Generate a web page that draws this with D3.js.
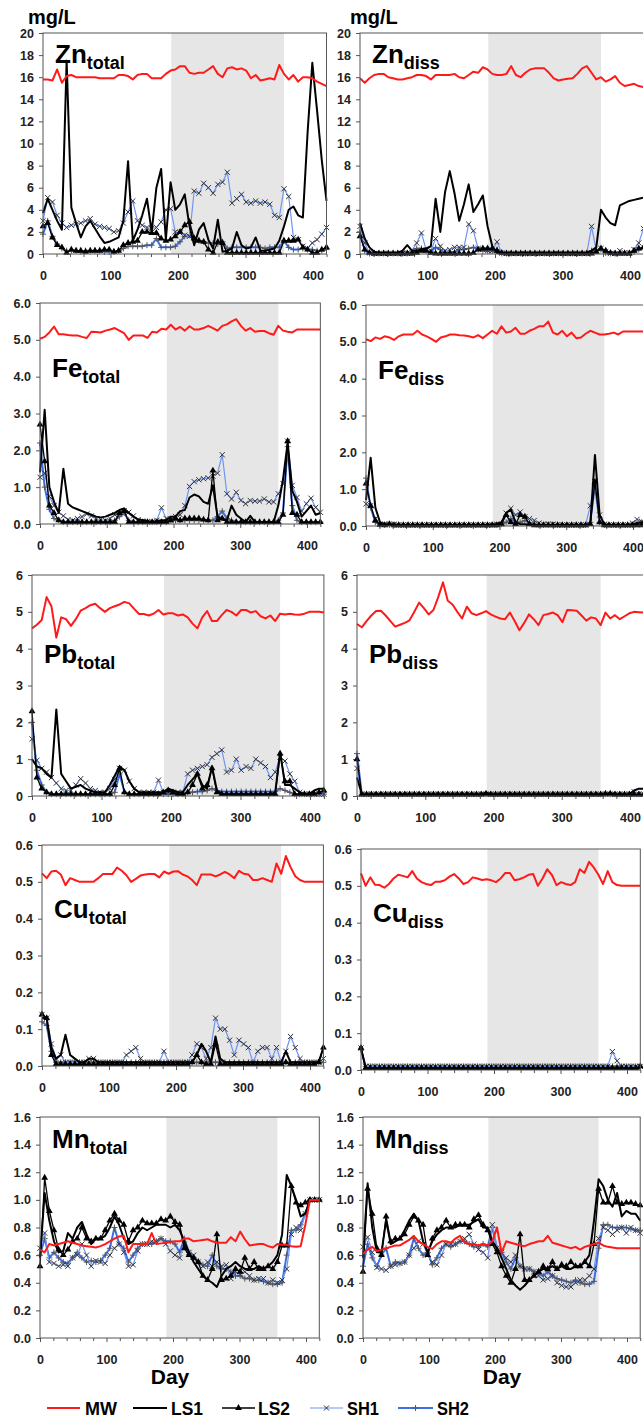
<!DOCTYPE html>
<html>
<head>
<meta charset="utf-8">
<script src="https://cdn.jsdelivr.net/npm/d3@7"></script>
<style>
  body { margin: 0; background: #fff; }
  svg { display: block; font-family: "Liberation Sans", Arial, sans-serif; font-weight: bold; }
</style>
</head>
<body>
<svg id="chart" width="643" height="1419"></svg>
<script>
// sampling days shared by every series
var days = [0,7,14,21,28,35,42,49,56,63, 70,77,84,91,98,105,112,119,126,133, 140,147,154,161,168,175,182,189,196,203,
  210,217,224,231,238,245,252,259,266,273, 280,287,294,301,308,315,322,329,336,343, 350,357,364,371,378,385,392,399,406,413, 420];
var xTicks = [0, 100, 200, 300, 400];
var xMinor = [20,40,60,80,120,140,160,180,220,240,260,280,320,340,360,380,420];
var shade = [190, 357];   // grey period
var seriesNames = ["MW", "LS1", "LS2", "SH1", "SH2"];

var znTicks = [0,2,4,6,8,10,12,14,16,18,20];
var feTicks = [0,1,2,3,4,5,6];
var pbTicks = [0,1,2,3,4,5,6];
var cuTicks = [0,0.1,0.2,0.3,0.4,0.5,0.6];
var mnTicks = [0,0.2,0.4,0.6,0.8,1.0,1.2,1.4,1.6];

// ---- Zn total
var znTotMW  = [15.8,15.8,15.7,16.7,15.5,16.1,16.2,16.0,16.0,16.0, 16.0,16.0,15.9,15.9,15.9,15.9,16.2,16.2,16.1,15.8, 16.2,16.3,16.3,15.9,15.9,15.9,16.3,16.6,16.7,17.0, 17.0,16.4,16.3,16.4,16.4,16.7,17.0,16.3,16.0,16.8, 16.9,16.7,16.8,16.6,15.9,16.2,15.7,15.8,15.9,15.8, 17.1,16.3,15.8,16.2,15.6,16.0,16.0,15.9,15.6,15.4, 15.2];
var znTotLS1 = [3.7,5.0,4.0,3.0,2.2,17.5,4.2,2.8,1.5,2.5, 3.0,2.3,1.6,1.0,1.1,1.3,1.5,3.0,8.4,1.2, 2.2,3.5,5.0,2.0,6.0,7.7,1.3,6.5,4.0,4.5, 5.4,2.5,0.8,2.2,2.8,1.3,0.5,3.1,0.2,0.3, 0.5,2.0,0.8,0.5,0.6,1.5,0.3,0.3,0.4,0.5, 1.2,2.5,4.0,4.3,3.5,3.3,11.0,17.3,13.0,8.5, 4.8];
var znTotLS2 = [2.5,2.8,1.5,0.8,0.6,0.1,0.4,0.3,0.3,0.2, 0.3,0.3,0.3,0.4,0.4,0.2,0.3,0.8,1.0,1.1, 1.2,2.0,2.0,1.9,1.9,1.4,1.2,1.3,1.6,2.0, 2.6,2.9,1.4,1.2,1.1,0.4,0.1,1.1,1.0,0.1, 0.1,0.1,0.1,0.1,0.1,0.1,0.1,0.1,0.1,0.1, 0.1,1.2,1.2,1.2,1.3,0.6,0.4,0.1,0.1,0.4, 0.6];
var znTotSH1 = [3.0,5.1,4.7,3.5,2.8,2.4,2.6,2.7,2.8,3.0, 3.2,2.7,2.5,2.4,2.3,2.0,2.1,2.8,3.8,4.8, 3.0,2.6,2.4,2.3,2.4,2.9,4.0,4.1,2.0,1.9, 1.7,1.6,5.7,5.5,6.4,6.0,5.5,6.3,6.5,7.4, 4.6,5.0,5.4,4.7,4.6,4.8,4.6,4.7,4.5,3.5, 3.3,5.9,5.2,1.5,1.3,0.7,0.5,1.0,1.3,1.8, 2.4];
var znTotSH2 = [1.8,3.0,1.6,0.9,0.5,0.3,0.3,0.3,0.2,0.3, 0.3,0.3,0.3,0.2,0.2,0.2,0.3,0.5,0.7,0.7, 0.7,0.7,0.8,0.8,1.4,0.6,0.6,0.6,0.7,1.1, 1.6,1.7,1.3,1.2,1.1,1.0,1.0,0.9,1.1,0.5, 0.6,0.6,0.6,0.6,0.6,0.6,0.6,0.5,0.6,0.6, 0.6,1.2,0.6,0.4,0.4,0.5,0.4,0.4,0.3,0.3, 0.4];

// ---- Zn dissolved
var znDisMW  = [15.9,15.5,15.9,16.2,16.3,16.3,16.0,15.9,15.8,15.8, 15.9,16.0,16.2,16.2,16.1,15.8,16.2,16.2,16.2,16.2, 16.3,16.0,15.9,16.2,16.5,16.4,16.9,16.7,16.3,16.2, 16.2,16.3,17.0,16.2,16.0,16.4,16.7,16.8,16.8,16.8, 16.4,15.9,15.7,15.8,15.85,15.9,16.3,16.8,17.0,16.4, 15.8,16.0,15.6,15.8,16.1,15.5,15.2,15.3,15.4,15.2, 15.1];
var znDisLS1 = [2.8,1.4,0.6,0.2,0.1,0.1,0.1,0.1,0.1,0.3, 0.8,0.3,0.3,0.4,0.5,0.7,5.0,2.0,5.6,7.5, 5.5,3.0,4.5,6.3,3.8,4.5,5.3,2.5,0.7,0.1, 0.1,0.1,0.1,0.1,0.1,0.1,0.1,0.1,0.1,0.1, 0.1,0.1,0.1,0.1,0.1,0.1,0.1,0.1,0.1,0.3, 0.6,4.0,3.3,2.8,2.6,4.4,4.6,4.8,4.9,5.0, 5.1];
var znDisLS2 = [1.6,0.4,0.1,0.05,0.05,0.05,0.05,0.05,0.05,0.05, 0.05,0.05,0.1,0.3,0.3,0.1,0.05,0.05,0.05,0.05, 0.05,0.05,0.05,0.05,0.1,0.4,0.5,0.5,0.5,0.3, 0.1,0.05,0.05,0.05,0.05,0.05,0.05,0.05,0.05,0.05, 0.05,0.05,0.05,0.05,0.05,0.05,0.05,0.05,0.05,0.05, 0.2,0.5,0.3,0.1,0.05,0.05,0.05,0.05,0.3,0.5, 0.6];
var znDisSH1 = [2.5,1.0,0.1,0.05,0.05,0.05,0.05,0.05,0.05,0.05, 0.1,0.3,1.0,1.9,0.4,0.3,1.4,0.7,0.3,0.4, 0.6,0.6,0.6,2.7,2.1,0.5,0.4,0.3,0.3,1.1, 0.1,0.05,0.05,0.05,0.05,0.05,0.05,0.05,0.05,0.05, 0.05,0.05,0.05,0.05,0.05,0.05,0.05,0.05,0.05,2.5, 0.3,0.5,0.2,0.05,0.05,0.3,0.1,0.1,0.4,1.0, 2.3];
var znDisSH2 = [2.0,0.3,0.05,0.05,0.05,0.05,0.05,0.05,0.05,0.05, 0.05,0.1,0.5,0.5,0.3,0.2,0.6,0.4,0.1,0.1, 0.2,0.4,0.4,0.5,0.6,0.4,0.3,0.3,0.3,0.4, 0.05,0.05,0.05,0.05,0.05,0.05,0.05,0.05,0.05,0.05, 0.05,0.05,0.05,0.05,0.05,0.05,0.05,0.05,0.05,0.3, 0.3,0.4,0.1,0.05,0.05,0.1,0.1,0.1,0.2,0.4, 0.5];

// ---- Fe total
var feTotMW  = [5.03,5.08,5.2,5.36,5.15,5.15,5.13,5.12,5.12,5.08, 5.05,5.22,5.21,5.2,5.25,5.28,5.32,5.25,5.18,5.0, 5.12,5.12,5.12,5.05,5.22,5.2,5.3,5.28,5.41,5.28, 5.35,5.25,5.37,5.28,5.28,5.32,5.38,5.32,5.25,5.38, 5.42,5.5,5.56,5.38,5.25,5.32,5.22,5.24,5.24,5.18, 5.14,5.38,5.25,5.22,5.2,5.28,5.28,5.28,5.28,5.28, 5.28];
var feTotLS1 = [1.4,3.1,1.0,0.6,0.3,1.5,0.55,0.45,0.4,0.35, 0.3,0.25,0.2,0.18,0.2,0.25,0.3,0.38,0.42,0.3, 0.2,0.12,0.1,0.08,0.05,0.08,0.1,0.1,0.2,0.2, 0.35,0.38,0.72,0.8,0.75,0.6,0.55,1.05,0.2,0.12, 0.1,0.5,0.25,0.15,0.05,0.22,0.05,0.05,0.05,0.05, 0.05,0.5,1.2,2.2,0.9,0.6,0.2,0.35,0.5,0.25, 0.3];
var feTotLS2 = [2.7,1.7,0.5,0.3,0.1,0.05,0.05,0.05,0.05,0.05, 0.05,0.05,0.05,0.05,0.05,0.05,0.05,0.3,0.35,0.05, 0.05,0.05,0.05,0.05,0.05,0.05,0.05,0.05,0.1,0.15, 0.1,0.15,0.15,0.15,0.15,0.12,0.1,1.45,0.1,0.15, 0.05,0.05,0.05,0.05,0.05,0.05,0.05,0.05,0.05,0.05, 0.05,0.05,0.25,2.25,0.3,0.25,0.05,0.05,0.05,0.05, 0.05];
var feTotSH1 = [1.27,1.38,0.75,0.5,0.32,0.22,0.12,0.1,0.15,0.2, 0.27,0.22,0.15,0.12,0.1,0.15,0.25,0.3,0.36,0.32, 0.22,0.12,0.08,0.06,0.06,0.1,0.44,0.15,0.1,0.2, 0.25,0.5,1.02,1.15,1.2,1.23,1.25,1.3,1.38,1.88, 0.82,0.68,0.86,0.64,0.55,0.64,0.62,0.62,0.68,0.6, 0.6,0.82,1.1,2.25,1.05,0.72,0.35,0.55,0.7,0.45, 0.32];
var feTotSH2 = [2.2,1.0,0.4,0.15,0.1,0.05,0.05,0.05,0.05,0.05, 0.05,0.05,0.05,0.05,0.05,0.05,0.1,0.2,0.3,0.1, 0.05,0.05,0.05,0.05,0.05,0.05,0.05,0.05,0.1,0.1, 0.1,0.1,0.1,0.1,0.1,0.1,0.1,0.1,0.2,0.35, 0.15,0.1,0.05,0.05,0.05,0.05,0.05,0.05,0.05,0.05, 0.05,0.1,0.3,2.1,0.5,0.1,0.05,0.05,0.05,0.05, 0.05];

// ---- Fe dissolved
var feDisMW  = [5.07,5.02,5.12,5.08,5.15,5.12,5.05,5.15,5.2,5.2, 5.2,5.3,5.2,5.15,5.08,5.0,5.12,5.15,5.2,5.2, 5.18,5.17,5.15,5.12,5.18,5.1,5.2,5.3,5.22,5.42, 5.25,5.28,5.38,5.22,5.22,5.3,5.35,5.42,5.42,5.55, 5.25,5.2,5.3,5.15,5.25,5.1,5.12,5.22,5.3,5.25, 5.2,5.2,5.22,5.25,5.2,5.28,5.28,5.28,5.28,5.28, 5.28];
var feDisLS1 = [0.7,1.85,0.5,0.1,0.05,0.05,0.05,0.03,0.03,0.03, 0.03,0.03,0.03,0.03,0.03,0.03,0.03,0.03,0.03,0.03, 0.03,0.03,0.03,0.03,0.03,0.03,0.03,0.05,0.05,0.1, 0.35,0.45,0.1,0.05,0.05,0.03,0.03,0.03,0.03,0.03, 0.03,0.03,0.03,0.03,0.03,0.03,0.03,0.03,0.05,1.93, 0.3,0.05,0.03,0.03,0.03,0.03,0.03,0.05,0.08,0.1, 0.1];
var feDisLS2 = [1.15,0.55,0.15,0.03,0.02,0.05,0.02,0.02,0.02,0.02, 0.02,0.02,0.02,0.02,0.02,0.02,0.02,0.02,0.02,0.02, 0.02,0.02,0.02,0.02,0.02,0.02,0.02,0.02,0.02,0.05, 0.3,0.1,0.05,0.3,0.25,0.05,0.02,0.02,0.02,0.02, 0.02,0.02,0.02,0.02,0.02,0.02,0.02,0.02,0.05,1.2, 0.1,0.02,0.02,0.02,0.02,0.02,0.02,0.02,0.02,0.02, 0.02];
var feDisSH1 = [0.6,0.55,0.2,0.05,0.05,0.05,0.05,0.03,0.03,0.03, 0.03,0.03,0.03,0.03,0.03,0.03,0.03,0.03,0.03,0.03, 0.03,0.03,0.03,0.03,0.03,0.03,0.03,0.03,0.05,0.05, 0.35,0.48,0.3,0.38,0.25,0.2,0.15,0.08,0.05,0.05, 0.05,0.03,0.03,0.03,0.03,0.03,0.03,0.03,0.55,1.2, 0.3,0.05,0.03,0.03,0.03,0.03,0.03,0.08,0.18,0.12, 0.1];
var feDisSH2 = [1.3,0.5,0.1,0.03,0.03,0.03,0.03,0.03,0.03,0.03, 0.03,0.03,0.03,0.03,0.03,0.03,0.03,0.03,0.03,0.03, 0.03,0.03,0.03,0.03,0.03,0.03,0.03,0.03,0.03,0.05, 0.1,0.2,0.1,0.1,0.15,0.08,0.05,0.03,0.03,0.03, 0.03,0.03,0.03,0.03,0.03,0.03,0.03,0.03,0.1,1.1, 0.1,0.03,0.03,0.03,0.03,0.03,0.03,0.03,0.05,0.1, 0.1];

// ---- Pb total
var pbTotMW  = [4.55,4.65,4.78,5.4,5.15,4.3,4.85,4.8,4.62,4.8, 5.03,5.1,5.18,5.22,5.1,5.0,5.1,5.15,5.2,5.27, 5.23,5.08,4.94,4.94,4.9,4.95,5.05,4.93,4.96,4.96, 4.9,4.93,4.85,4.68,4.55,4.85,5.02,4.75,4.75,4.91, 5.05,5.0,4.9,5.05,5.05,4.98,5.02,4.88,4.82,4.9, 4.75,4.95,4.93,4.95,4.93,4.92,4.95,5.0,5.0,5.0, 4.98];
var pbTotLS1 = [1.0,0.8,0.75,0.6,0.5,2.35,0.6,0.4,0.2,0.25, 0.3,0.2,0.15,0.1,0.1,0.1,0.3,0.55,0.8,0.7, 0.4,0.2,0.1,0.1,0.1,0.1,0.1,0.1,0.2,0.15, 0.1,0.1,0.3,0.45,0.6,0.3,0.2,0.8,0.15,0.05, 0.05,0.05,0.05,0.05,0.05,0.05,0.05,0.05,0.05,0.05, 0.1,1.2,0.3,0.3,0.2,0.1,0.05,0.05,0.15,0.2, 0.2];
var pbTotLS2 = [2.3,0.5,0.2,0.1,0.05,0.05,0.05,0.05,0.05,0.05, 0.05,0.05,0.05,0.05,0.05,0.05,0.05,0.3,0.75,0.1, 0.05,0.05,0.05,0.05,0.05,0.05,0.05,0.1,0.15,0.1, 0.05,0.05,0.1,0.3,0.6,0.2,0.3,0.75,0.1,0.05, 0.05,0.05,0.05,0.05,0.05,0.05,0.05,0.05,0.05,0.05, 0.05,1.15,0.4,0.4,0.05,0.05,0.05,0.05,0.05,0.1, 0.15];
var pbTotSH1 = [1.55,0.97,0.75,0.65,0.5,0.35,0.2,0.15,0.15,0.3, 0.47,0.35,0.2,0.15,0.1,0.1,0.2,0.45,0.75,0.7, 0.4,0.2,0.1,0.1,0.1,0.1,0.43,0.1,0.1,0.1, 0.1,0.1,0.6,0.7,0.75,0.8,0.85,1.05,1.15,1.25, 0.65,0.7,1.0,0.7,0.8,0.75,1.0,0.9,0.8,0.5, 0.65,1.05,0.95,0.6,0.4,0.1,0.05,0.05,0.05,0.05, 0.05];
var pbTotSH2 = [2.0,0.7,0.3,0.1,0.05,0.05,0.05,0.05,0.05,0.05, 0.05,0.05,0.05,0.05,0.05,0.05,0.05,0.1,0.6,0.1, 0.05,0.05,0.05,0.05,0.05,0.05,0.05,0.05,0.05,0.05, 0.05,0.05,0.1,0.1,0.12,0.12,0.15,0.2,0.15,0.12, 0.12,0.12,0.12,0.12,0.12,0.12,0.12,0.12,0.12,0.12, 0.12,0.2,0.15,0.1,0.05,0.05,0.05,0.05,0.05,0.05, 0.05];

// ---- Pb dissolved
var pbDisMW  = [4.67,4.58,4.75,4.9,5.02,5.03,4.9,4.75,4.6,4.65, 4.7,4.77,5.0,5.25,5.1,4.93,5.05,5.4,5.8,5.3, 5.2,5.0,4.82,5.14,4.96,4.91,4.96,5.02,4.93,4.87, 4.82,4.8,4.98,4.75,4.5,4.7,4.93,4.8,4.64,4.91, 4.94,4.98,4.91,4.72,5.05,5.04,5.03,4.9,4.76,4.85, 4.82,4.64,4.98,4.82,4.91,4.8,4.88,4.96,5.0,4.99, 4.98];
var pbDisLS1 = [0.5,0.05,0.05,0.05,0.05,0.05,0.05,0.05,0.05,0.05, 0.05,0.05,0.05,0.05,0.05,0.05,0.05,0.05,0.05,0.05, 0.05,0.05,0.05,0.05,0.05,0.05,0.05,0.1,0.05,0.05, 0.05,0.05,0.05,0.05,0.05,0.05,0.05,0.05,0.05,0.05, 0.05,0.05,0.05,0.05,0.05,0.05,0.05,0.05,0.05,0.05, 0.05,0.05,0.05,0.08,0.05,0.05,0.05,0.05,0.15,0.2, 0.2];
var pbDisLS2 = [1.0,0.04,0.04,0.04,0.04,0.04,0.04,0.04,0.04,0.04, 0.04,0.04,0.04,0.04,0.04,0.04,0.04,0.04,0.04,0.04, 0.04,0.04,0.04,0.04,0.04,0.04,0.04,0.06,0.04,0.04, 0.04,0.04,0.04,0.04,0.04,0.04,0.04,0.04,0.04,0.04, 0.04,0.04,0.04,0.04,0.04,0.04,0.04,0.04,0.04,0.04, 0.04,0.04,0.06,0.06,0.04,0.04,0.04,0.04,0.04,0.04, 0.04];
var pbDisSH1 = [0.75,0.05,0.05,0.05,0.05,0.05,0.05,0.05,0.05,0.05, 0.05,0.05,0.05,0.05,0.05,0.05,0.05,0.05,0.05,0.05, 0.05,0.05,0.05,0.05,0.05,0.05,0.05,0.05,0.05,0.05, 0.05,0.05,0.05,0.05,0.05,0.05,0.05,0.05,0.05,0.05, 0.05,0.05,0.05,0.05,0.05,0.05,0.05,0.05,0.05,0.05, 0.05,0.05,0.05,0.05,0.05,0.05,0.05,0.05,0.12,0.05, 0.05];
var pbDisSH2 = [1.15,0.05,0.05,0.05,0.05,0.05,0.05,0.05,0.05,0.05, 0.05,0.05,0.05,0.05,0.05,0.05,0.05,0.05,0.05,0.05, 0.05,0.05,0.05,0.05,0.05,0.05,0.05,0.05,0.05,0.05, 0.05,0.05,0.05,0.05,0.05,0.05,0.05,0.05,0.05,0.05, 0.05,0.05,0.05,0.05,0.05,0.05,0.05,0.05,0.05,0.05, 0.05,0.05,0.05,0.05,0.05,0.05,0.05,0.05,0.05,0.05, 0.05];

// ---- Cu total
var cuTotMW  = [0.523,0.51,0.528,0.53,0.52,0.491,0.51,0.505,0.5,0.5, 0.5,0.5,0.51,0.521,0.521,0.521,0.539,0.53,0.518,0.5, 0.508,0.517,0.52,0.521,0.521,0.512,0.528,0.522,0.528,0.529, 0.52,0.515,0.505,0.491,0.52,0.52,0.52,0.515,0.52,0.527, 0.52,0.51,0.53,0.522,0.52,0.505,0.505,0.51,0.505,0.5, 0.55,0.522,0.57,0.54,0.515,0.505,0.5,0.5,0.5,0.5, 0.5];
var cuTotLS1 = [0.13,0.13,0.05,0.02,0.03,0.085,0.03,0.02,0.01,0.01, 0.02,0.02,0.01,0.01,0.01,0.01,0.01,0.01,0.01,0.01, 0.01,0.01,0.01,0.01,0.01,0.01,0.01,0.01,0.01,0.01, 0.01,0.01,0.01,0.03,0.06,0.04,0.01,0.08,0.02,0.01, 0.01,0.01,0.01,0.01,0.01,0.01,0.01,0.01,0.01,0.01, 0.01,0.01,0.04,0.01,0.01,0.01,0.01,0.01,0.01,0.01, 0.05];
var cuTotLS2 = [0.14,0.13,0.03,0.005,0.005,0.005,0.005,0.005,0.005,0.005, 0.005,0.005,0.005,0.005,0.005,0.005,0.005,0.005,0.005,0.005, 0.005,0.005,0.005,0.005,0.005,0.005,0.005,0.005,0.005,0.005, 0.005,0.005,0.01,0.03,0.01,0.005,0.005,0.06,0.005,0.005, 0.005,0.005,0.005,0.005,0.005,0.005,0.005,0.005,0.005,0.005, 0.005,0.005,0.01,0.005,0.005,0.005,0.005,0.005,0.005,0.01, 0.05];
var cuTotSH1 = [0.14,0.13,0.06,0.02,0.03,0.01,0.01,0.01,0.01,0.01, 0.02,0.02,0.01,0.01,0.01,0.01,0.01,0.01,0.03,0.04, 0.05,0.02,0.01,0.01,0.01,0.01,0.04,0.01,0.01,0.01, 0.01,0.01,0.03,0.06,0.05,0.02,0.05,0.13,0.1,0.1, 0.07,0.03,0.07,0.06,0.05,0.01,0.04,0.05,0.05,0.02, 0.05,0.01,0.04,0.08,0.05,0.02,0.01,0.01,0.01,0.01, 0.02];
var cuTotSH2 = [0.12,0.11,0.04,0.01,0.01,0.01,0.01,0.01,0.01,0.01, 0.01,0.01,0.01,0.01,0.01,0.01,0.01,0.01,0.01,0.01, 0.01,0.01,0.01,0.01,0.01,0.01,0.01,0.01,0.01,0.01, 0.01,0.01,0.01,0.01,0.01,0.01,0.01,0.01,0.01,0.01, 0.01,0.01,0.01,0.01,0.01,0.01,0.01,0.01,0.01,0.01, 0.01,0.01,0.01,0.01,0.01,0.01,0.01,0.01,0.01,0.01, 0.01];

// ---- Cu dissolved
var cuDisMW  = [0.534,0.5,0.523,0.503,0.502,0.495,0.505,0.52,0.53,0.527, 0.523,0.54,0.52,0.51,0.505,0.502,0.511,0.511,0.515,0.525, 0.532,0.52,0.505,0.51,0.523,0.52,0.516,0.518,0.515,0.51, 0.52,0.535,0.535,0.515,0.518,0.523,0.53,0.532,0.5,0.52, 0.545,0.53,0.502,0.51,0.505,0.502,0.51,0.545,0.535,0.565, 0.55,0.53,0.505,0.54,0.51,0.502,0.5,0.5,0.5,0.5, 0.5];
var cuDisLS1 = [0.06,0.005,0.005,0.005,0.005,0.005,0.005,0.005,0.005,0.005, 0.005,0.005,0.005,0.005,0.005,0.005,0.005,0.005,0.005,0.005, 0.005,0.005,0.005,0.005,0.005,0.005,0.005,0.005,0.005,0.005, 0.005,0.005,0.005,0.005,0.005,0.005,0.005,0.005,0.005,0.005, 0.005,0.005,0.005,0.005,0.005,0.005,0.005,0.005,0.005,0.005, 0.005,0.005,0.005,0.005,0.005,0.005,0.005,0.005,0.005,0.005, 0.005];
var cuDisLS2 = [0.06,0.005,0.005,0.005,0.005,0.005,0.005,0.005,0.005,0.005, 0.005,0.005,0.005,0.005,0.005,0.005,0.005,0.005,0.005,0.005, 0.005,0.005,0.005,0.005,0.005,0.005,0.005,0.005,0.005,0.005, 0.005,0.005,0.005,0.005,0.005,0.005,0.005,0.005,0.005,0.005, 0.005,0.005,0.005,0.005,0.005,0.005,0.005,0.005,0.005,0.005, 0.005,0.005,0.005,0.005,0.005,0.005,0.005,0.005,0.005,0.005, 0.01];
var cuDisSH1 = [0.06,0.01,0.01,0.01,0.01,0.01,0.01,0.01,0.01,0.01, 0.01,0.01,0.01,0.01,0.01,0.01,0.01,0.01,0.01,0.01, 0.01,0.01,0.01,0.01,0.01,0.01,0.01,0.01,0.01,0.01, 0.01,0.01,0.01,0.01,0.01,0.01,0.01,0.01,0.01,0.01, 0.01,0.01,0.01,0.01,0.01,0.01,0.01,0.01,0.01,0.01, 0.01,0.01,0.01,0.01,0.05,0.025,0.01,0.01,0.01,0.01, 0.01];
var cuDisSH2 = [0.055,0.01,0.01,0.01,0.01,0.01,0.01,0.01,0.01,0.01, 0.01,0.01,0.01,0.01,0.01,0.01,0.01,0.01,0.01,0.01, 0.01,0.01,0.01,0.01,0.01,0.01,0.01,0.01,0.01,0.01, 0.01,0.01,0.01,0.01,0.01,0.01,0.01,0.01,0.01,0.01, 0.01,0.01,0.01,0.01,0.01,0.01,0.01,0.01,0.01,0.01, 0.01,0.01,0.01,0.01,0.01,0.01,0.01,0.01,0.01,0.01, 0.01];

// ---- Mn total
var mnTotMW  = [0.64,0.62,0.68,0.67,0.68,0.69,0.7,0.69,0.68,0.67, 0.665,0.66,0.655,0.665,0.68,0.7,0.72,0.735,0.74,0.62, 0.68,0.68,0.68,0.68,0.76,0.68,0.685,0.69,0.695,0.7, 0.7,0.72,0.72,0.7,0.705,0.71,0.715,0.7,0.69,0.69, 0.69,0.73,0.7,0.77,0.715,0.67,0.675,0.68,0.68,0.665, 0.655,0.68,0.675,0.675,0.665,0.66,0.665,0.82,1.0,1.0, 1.0];
var mnTotLS1 = [0.58,1.05,0.85,0.7,0.62,0.63,0.76,0.72,0.8,0.84, 0.75,0.68,0.72,0.72,0.74,0.8,0.88,0.82,0.72,0.68, 0.7,0.76,0.8,0.78,0.8,0.82,0.82,0.82,0.8,0.82, 0.78,0.7,0.62,0.55,0.5,0.45,0.42,0.4,0.37,0.45, 0.5,0.52,0.55,0.52,0.5,0.5,0.5,0.52,0.5,0.52, 0.55,0.6,0.75,1.18,1.1,1.0,0.88,0.9,1.0,1.0, 1.0];
var mnTotLS2 = [0.52,1.16,0.92,0.78,0.64,0.6,0.64,0.7,0.72,0.8, 0.72,0.7,0.72,0.72,0.78,0.85,0.9,0.85,0.82,0.7, 0.78,0.8,0.85,0.83,0.83,0.83,0.86,0.85,0.88,0.84, 0.82,0.65,0.6,0.58,0.55,0.45,0.42,0.5,0.75,0.42, 0.43,0.45,0.5,0.48,0.58,0.5,0.55,0.5,0.5,0.52, 0.5,0.55,0.67,0.67,1.1,0.98,0.96,0.98,1.0,1.0, 1.0];
var mnTotSH1 = [0.65,0.76,0.55,0.54,0.52,0.53,0.52,0.58,0.6,0.68, 0.6,0.52,0.56,0.55,0.54,0.6,0.65,0.68,0.62,0.52, 0.53,0.63,0.68,0.68,0.7,0.7,0.72,0.68,0.63,0.6, 0.58,0.68,0.62,0.6,0.55,0.52,0.55,0.52,0.55,0.52, 0.53,0.43,0.48,0.46,0.48,0.45,0.42,0.43,0.43,0.4, 0.42,0.4,0.42,0.5,0.75,0.8,0.78,0.9,1.0,1.0, 1.0];
var mnTotSH2 = [0.6,0.72,0.58,0.62,0.58,0.55,0.54,0.58,0.62,0.58, 0.55,0.56,0.55,0.56,0.6,0.65,0.8,0.68,0.65,0.55, 0.6,0.65,0.68,0.68,0.68,0.7,0.72,0.7,0.7,0.68, 0.62,0.72,0.62,0.58,0.55,0.53,0.52,0.6,0.52,0.5, 0.5,0.48,0.45,0.45,0.43,0.43,0.42,0.42,0.41,0.4, 0.39,0.39,0.4,0.6,0.78,0.78,0.82,0.9,1.0,1.0, 1.0];

// ---- Mn dissolved
var mnDisMW  = [0.61,0.64,0.66,0.63,0.64,0.65,0.66,0.67,0.67,0.69, 0.71,0.74,0.7,0.68,0.66,0.645,0.68,0.7,0.7,0.69, 0.72,0.74,0.69,0.68,0.68,0.67,0.68,0.67,0.7,0.8, 0.62,0.7,0.69,0.68,0.67,0.665,0.68,0.69,0.7,0.7, 0.74,0.69,0.68,0.67,0.66,0.65,0.66,0.64,0.66,0.67, 0.68,0.69,0.67,0.66,0.655,0.65,0.65,0.65,0.65,0.65, 0.65];
var mnDisLS1 = [0.58,1.12,0.8,0.62,0.62,0.85,0.68,0.7,0.72,0.78, 0.85,0.9,0.85,0.7,0.62,0.7,0.75,0.78,0.8,0.8, 0.8,0.82,0.82,0.82,0.84,0.86,0.8,0.8,0.7,0.65, 0.58,0.5,0.42,0.38,0.35,0.38,0.42,0.45,0.48,0.5, 0.5,0.52,0.5,0.52,0.5,0.5,0.52,0.52,0.55,0.6, 0.85,1.15,1.1,1.0,0.95,1.05,0.88,0.92,0.9,0.9, 0.85];
var mnDisLS2 = [0.48,1.08,0.9,0.65,0.6,0.88,0.7,0.72,0.72,0.75, 0.82,0.88,0.85,0.82,0.6,0.72,0.78,0.8,0.85,0.8, 0.82,0.82,0.82,0.8,0.86,0.89,0.82,0.78,0.68,0.62, 0.52,0.45,0.4,0.5,0.75,0.42,0.42,0.45,0.48,0.52, 0.5,0.55,0.5,0.53,0.52,0.55,0.52,0.52,0.55,0.52, 0.68,1.08,0.98,0.98,1.1,0.98,0.97,0.98,0.98,0.97, 0.96];
var mnDisSH1 = [0.66,0.73,0.62,0.51,0.5,0.49,0.52,0.53,0.54,0.55, 0.6,0.65,0.7,0.68,0.6,0.55,0.53,0.6,0.68,0.68, 0.68,0.7,0.72,0.75,0.68,0.64,0.62,0.58,0.82,0.65, 0.62,0.58,0.55,0.6,0.52,0.5,0.5,0.48,0.45,0.42, 0.43,0.45,0.4,0.38,0.37,0.37,0.4,0.42,0.42,0.45, 0.5,0.72,0.8,0.78,0.75,0.78,0.8,0.76,0.8,0.78, 0.76];
var mnDisSH2 = [0.52,0.68,0.58,0.52,0.6,0.65,0.52,0.55,0.54,0.55, 0.6,0.72,0.65,0.6,0.62,0.53,0.58,0.65,0.68,0.66, 0.68,0.7,0.7,0.68,0.66,0.66,0.68,0.66,0.8,0.65, 0.62,0.55,0.5,0.58,0.52,0.5,0.5,0.48,0.47,0.45, 0.48,0.45,0.43,0.42,0.41,0.4,0.42,0.4,0.39,0.39, 0.41,0.65,0.82,0.82,0.8,0.8,0.8,0.8,0.79,0.78, 0.78];

var panels = [
  {row: 0, col: 0, metal: "Zn", sub: "total", ticks: znTicks, fmt: "d",   s: [znTotMW, znTotLS1, znTotLS2, znTotSH1, znTotSH2]},
  {row: 0, col: 1, metal: "Zn", sub: "diss",  ticks: znTicks, fmt: "d",   s: [znDisMW, znDisLS1, znDisLS2, znDisSH1, znDisSH2]},
  {row: 1, col: 0, metal: "Fe", sub: "total", ticks: feTicks, fmt: ".1f", s: [feTotMW, feTotLS1, feTotLS2, feTotSH1, feTotSH2]},
  {row: 1, col: 1, metal: "Fe", sub: "diss",  ticks: feTicks, fmt: ".1f", s: [feDisMW, feDisLS1, feDisLS2, feDisSH1, feDisSH2]},
  {row: 2, col: 0, metal: "Pb", sub: "total", ticks: pbTicks, fmt: "d",   s: [pbTotMW, pbTotLS1, pbTotLS2, pbTotSH1, pbTotSH2]},
  {row: 2, col: 1, metal: "Pb", sub: "diss",  ticks: pbTicks, fmt: "d",   s: [pbDisMW, pbDisLS1, pbDisLS2, pbDisSH1, pbDisSH2]},
  {row: 3, col: 0, metal: "Cu", sub: "total", ticks: cuTicks, fmt: ".1f", s: [cuTotMW, cuTotLS1, cuTotLS2, cuTotSH1, cuTotSH2]},
  {row: 3, col: 1, metal: "Cu", sub: "diss",  ticks: cuTicks, fmt: ".1f", s: [cuDisMW, cuDisLS1, cuDisLS2, cuDisSH1, cuDisSH2]},
  {row: 4, col: 0, metal: "Mn", sub: "total", ticks: mnTicks, fmt: ".1f", s: [mnTotMW, mnTotLS1, mnTotLS2, mnTotSH1, mnTotSH2]},
  {row: 4, col: 1, metal: "Mn", sub: "diss",  ticks: mnTicks, fmt: ".1f", s: [mnDisMW, mnDisLS1, mnDisLS2, mnDisSH1, mnDisSH2]}
];

// layout (pixels)
var plotH = 221;
var rowTop = [[33, 303, 575, 845, 1117], [33, 305, 575, 849, 1117]];
var xAt0 = [[43, 40, 32, 42, 40], [360, 366, 357, 361, 363]];
var xAt400 = [[313, 307, 310, 310, 306], [630, 633, 630, 627, 627]];
var titleDy = [30, 74, 88, 73, 31];

var style = {
  MW:  {stroke: "#ff1a1a", width: 2},
  LS1: {stroke: "#000", width: 2},
  LS2: {stroke: "#000", width: 1.3, marker: "tri"},
  SH1: {stroke: "#6f95f2", width: 1.2, marker: "x"},
  SH2: {stroke: "#3e6fe6", width: 2, marker: "plus"}
};
var drawOrder = ["SH2", "SH1", "LS2", "LS1", "MW"];

var svg = d3.select("#chart");

function addMarkers(g, pts, kind) {
  if (kind === "tri") {
    g.selectAll(null).data(pts).enter().append("path")
      .attr("d", d3.symbol(d3.symbolTriangle, 20))
      .attr("transform", function (d) { return "translate(" + d[0] + "," + d[1] + ")"; })
      .attr("fill", "#000");
  } else if (kind === "x") {
    g.selectAll(null).data(pts).enter().append("path")
      .attr("d", "M-2.6,-2.6L2.6,2.6M-2.6,2.6L2.6,-2.6")
      .attr("transform", function (d) { return "translate(" + d[0] + "," + d[1] + ")"; })
      .attr("stroke", "#333").attr("stroke-width", 1).attr("fill", "none");
  } else if (kind === "plus") {
    g.selectAll(null).data(pts).enter().append("path")
      .attr("d", "M-3,0H3M0,-3V3")
      .attr("transform", function (d) { return "translate(" + d[0] + "," + d[1] + ")"; })
      .attr("stroke", "#555").attr("stroke-width", 1).attr("fill", "none");
  }
}

panels.forEach(function (p) {
  var top = rowTop[p.col][p.row];
  var x = d3.scaleLinear().domain([0, 400]).range([xAt0[p.col][p.row], xAt400[p.col][p.row]]);
  var y = d3.scaleLinear().domain([0, p.ticks[p.ticks.length - 1]]).range([top + plotH, top]);
  var x0 = x(0), x1 = x(420);
  var g = svg.append("g");

  g.append("rect").attr("x", x0).attr("y", top).attr("width", x1 - x0).attr("height", plotH)
    .attr("fill", "#fff");
  g.append("rect").attr("x", x(shade[0])).attr("y", top)
    .attr("width", x(shade[1]) - x(shade[0])).attr("height", plotH).attr("fill", "#e6e6e6");

  var yAxis = g.append("g").attr("transform", "translate(" + x0 + ",0)")
    .call(d3.axisLeft(y).tickValues(p.ticks).tickFormat(d3.format(p.fmt)).tickSize(4).tickPadding(5).tickSizeOuter(0));
  var xAxis = g.append("g").attr("transform", "translate(0," + (top + plotH) + ")")
    .call(d3.axisBottom(x).tickValues(xTicks).tickFormat(d3.format("d")).tickSize(4).tickPadding(13).tickSizeOuter(0));
  g.append("g").attr("transform", "translate(0," + (top + plotH) + ")")
    .call(d3.axisBottom(x).tickValues(xMinor).tickFormat("").tickSize(3).tickSizeOuter(0))
    .call(function (a) { a.select(".domain").remove(); });
  [yAxis, xAxis].forEach(function (a) {
    a.select(".domain").remove();
    a.selectAll("text").attr("font-size", "12.5px").attr("font-weight", "bold").attr("fill", "#222")
      .attr("font-family", "Liberation Sans, Arial, sans-serif");
  });
  g.selectAll("g.tick line").attr("stroke", "#555");

  var line = d3.line().x(function (d) { return x(d[0]); }).y(function (d) { return y(d[1]); });
  drawOrder.forEach(function (name) {
    var vals = p.s[seriesNames.indexOf(name)];
    var data = days.map(function (d, i) { return [d, vals[i]]; });
    var st = style[name];
    g.append("path").datum(data).attr("d", line)
      .attr("fill", "none").attr("stroke", st.stroke).attr("stroke-width", st.width)
      .attr("stroke-linejoin", "round");
    if (st.marker) {
      addMarkers(g.append("g"), data.map(function (d) { return [x(d[0]), y(d[1])]; }), st.marker);
    }
  });

  g.append("rect").attr("x", x0).attr("y", top).attr("width", x1 - x0).attr("height", plotH)
    .attr("fill", "none").attr("stroke", "#555").attr("stroke-width", 1);

  var t = g.append("text").attr("x", x0 + 12).attr("y", top + titleDy[p.row])
    .attr("font-size", "26px").attr("fill", "#000").text(p.metal);
  t.append("tspan").attr("dy", 6).attr("font-size", "18px").text(p.sub);
});

// unit labels and axis titles
svg.append("text").attr("x", 28).attr("y", 24).attr("font-size", "20px").text("mg/L");
svg.append("text").attr("x", 350).attr("y", 24).attr("font-size", "20px").text("mg/L");
svg.append("text").attr("x", 170).attr("y", 1384).attr("text-anchor", "middle").attr("font-size", "21px").text("Day");
svg.append("text").attr("x", 502).attr("y", 1384).attr("text-anchor", "middle").attr("font-size", "21px").text("Day");

// legend
var legendX = {MW: [47, 80, 85], LS1: [133, 167, 171], LS2: [222, 255, 258], SH1: [310, 343, 347], SH2: [398, 433, 437]};
var legY = 1408;
var lg = svg.append("g");
seriesNames.forEach(function (name) {
  var pos = legendX[name], st = style[name];
  lg.append("line").attr("x1", pos[0]).attr("x2", pos[1]).attr("y1", legY).attr("y2", legY)
    .attr("stroke", st.stroke).attr("stroke-width", st.width);
  if (st.marker) addMarkers(lg.append("g"), [[(pos[0] + pos[1]) / 2, legY]], st.marker);
  lg.append("text").attr("x", pos[2]).attr("y", 1415).attr("font-size", "19px")
    .attr("textLength", 32).attr("lengthAdjust", "spacingAndGlyphs").text(name);
});
</script>
</body>
</html>
